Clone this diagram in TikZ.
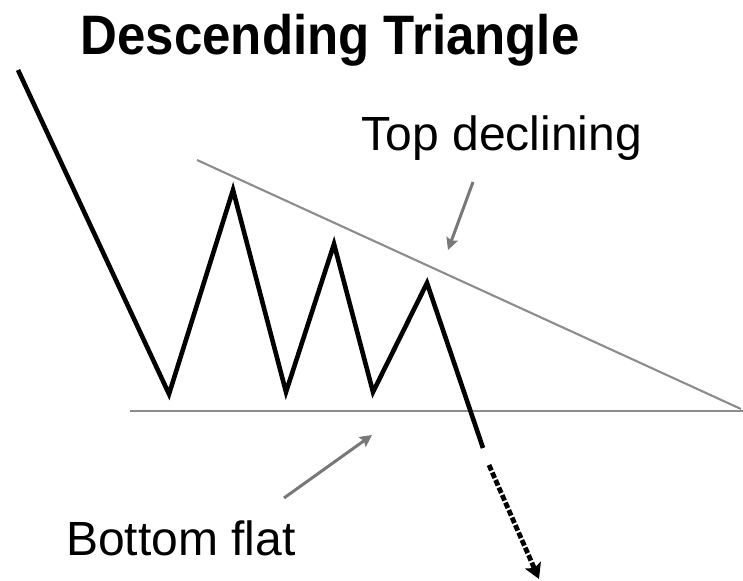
\documentclass[tikz,border=0pt]{standalone}
\usepackage{fontspec}
\setmainfont{Liberation Sans}
\usetikzlibrary{arrows.meta}
\definecolor{guide}{RGB}{140,140,140}
\definecolor{pointer}{RGB}{120,120,120}
\tikzset{
  price/.style={line width=4.6pt, black, line join=miter, line cap=butt},
  guideline/.style={line width=2.1pt, guide},
  pointerarrow/.style={line width=3pt, pointer, -{Stealth[length=12pt,width=12pt,inset=2pt]}},
  label/.style={font=\fontsize{48}{56}\selectfont, anchor=base, inner sep=0pt},
  titletext/.style={font=\fontsize{51}{60}\selectfont\bfseries, anchor=base, inner sep=0pt}
}
\begin{document}
\begin{tikzpicture}[x=1pt,y=-1pt]
\useasboundingbox (0,0) rectangle (743,580);
% title
\node[titletext] (title) at (330,55) {\scalebox{1}[1.09]{Descending Triangle}};
% guide lines
\coordinate (ts) at (197,160);
\coordinate (te) at (741,409);
\coordinate (bs) at (130,411);
\coordinate (be) at (743,411);
\draw[guideline] (ts) -- (te);
\draw[guideline] (bs) -- (be);
% price path
\coordinate (p0) at (18,70);
\coordinate (p1) at (169,394);
\coordinate (p2) at (233,190);
\coordinate (p3) at (286,392);
\coordinate (p4) at (334,244);
\coordinate (p5) at (373,392);
\coordinate (p6) at (427,283);
\coordinate (p7) at (483,448);
\coordinate (d0) at (489,465);
\coordinate (d1) at (539,579);
\draw[price] (p0) -- (p1) -- (p2) -- (p3) -- (p4) -- (p5) -- (p6) -- (p7);
\draw[line width=4.8pt, black, dash pattern=on 6pt off 2.2pt, -{Stealth[length=15pt,width=17pt,inset=3pt]}] (d0) -- (d1);
% labels
\node[label] (top) at (502,150) {Top declining};
\node[label] (bottom) at (181,555) {Bottom flat};
\coordinate (ta0) at (473,182);
\coordinate (ta1) at (448,250);
\coordinate (ba0) at (284,498);
\coordinate (ba1) at (372,435);
\draw[pointerarrow] (ta0) -- (ta1);
\draw[pointerarrow] (ba0) -- (ba1);
\end{tikzpicture}
\end{document}
